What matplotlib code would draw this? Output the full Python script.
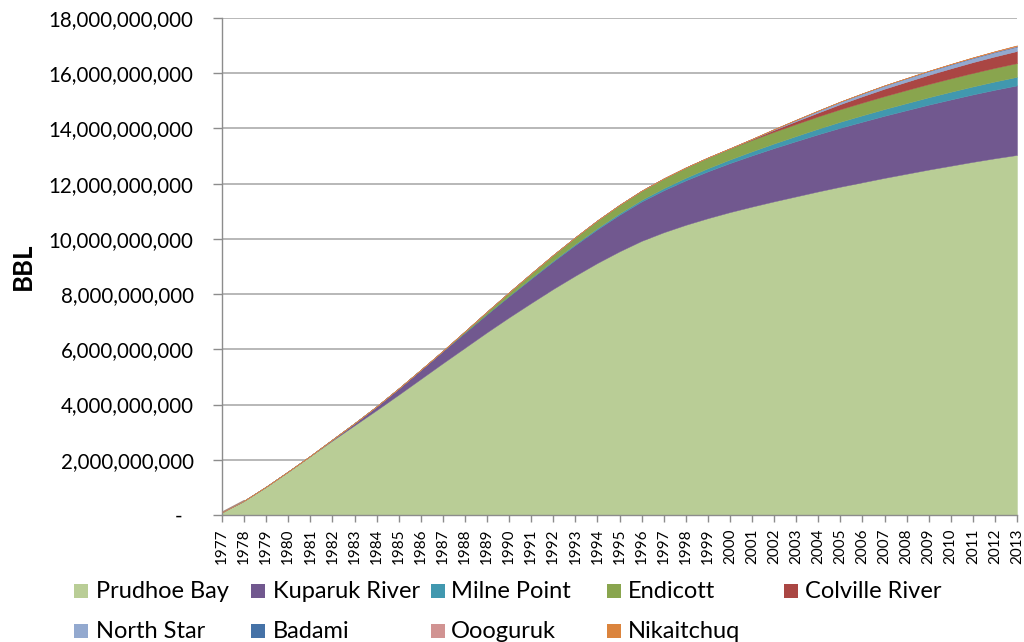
import matplotlib
matplotlib.use("Agg")
import matplotlib.pyplot as plt
from matplotlib.patches import Rectangle
from matplotlib.ticker import FuncFormatter
import numpy as np

# Cumulative oil production by North Slope field, billions of barrels
years = [1977, 1978, 1979, 1980, 1981, 1982, 1983, 1984, 1985, 1986,
         1987, 1988, 1989, 1990, 1991, 1992, 1993, 1994, 1995, 1996,
         1997, 1998, 1999, 2000, 2001, 2002, 2003, 2004, 2005, 2006,
         2007, 2008, 2009, 2010, 2011, 2012, 2013]

field_names = ["Prudhoe Bay", "Kuparuk River", "Milne Point", "Endicott",
               "Colville River", "North Star", "Badami", "Oooguruk",
               "Nikaitchuq"]

prudhoe_bay = [0.10, 0.52, 1.03, 1.58, 2.14, 2.70, 3.25, 3.80, 4.36, 4.93,
               5.50, 6.06, 6.62, 7.16, 7.68, 8.19, 8.67, 9.13, 9.55, 9.93,
               10.24, 10.51, 10.75, 10.97, 11.17, 11.36, 11.54, 11.72, 11.89, 12.05,
               12.21, 12.36, 12.51, 12.65, 12.79, 12.92, 13.04]

kuparuk_river = [0, 0, 0, 0, 0.004, 0.037, 0.077, 0.137, 0.227, 0.327,
                 0.437, 0.547, 0.657, 0.767, 0.882, 0.997, 1.112, 1.222, 1.327, 1.427,
                 1.522, 1.612, 1.697, 1.777, 1.855, 1.930, 2.002, 2.070, 2.135, 2.195,
                 2.250, 2.302, 2.352, 2.399, 2.442, 2.482, 2.520]

milne_point = [0, 0, 0, 0, 0, 0, 0, 0, 0.001, 0.004,
               0.006, 0.006, 0.008, 0.015, 0.022, 0.029, 0.036, 0.044, 0.052, 0.060,
               0.077, 0.095, 0.113, 0.130, 0.148, 0.167, 0.185, 0.203, 0.219, 0.232,
               0.244, 0.256, 0.268, 0.280, 0.290, 0.300, 0.310]

endicott = [0, 0, 0, 0, 0, 0, 0, 0, 0, 0,
            0.005, 0.042, 0.084, 0.126, 0.168, 0.208, 0.245, 0.277, 0.305, 0.330,
            0.351, 0.370, 0.386, 0.401, 0.414, 0.425, 0.436, 0.445, 0.454, 0.461,
            0.468, 0.474, 0.479, 0.484, 0.489, 0.493, 0.497]

colville_river = [0, 0, 0, 0, 0, 0, 0, 0, 0, 0,
                  0, 0, 0, 0, 0, 0, 0, 0, 0, 0,
                  0, 0, 0, 0.001, 0.031, 0.067, 0.103, 0.139, 0.184, 0.228,
                  0.268, 0.300, 0.332, 0.362, 0.390, 0.415, 0.438]

north_star = [0, 0, 0, 0, 0, 0, 0, 0, 0, 0,
              0, 0, 0, 0, 0, 0, 0, 0, 0, 0,
              0, 0, 0, 0, 0.001, 0.021, 0.045, 0.067, 0.085, 0.100,
              0.113, 0.124, 0.133, 0.141, 0.148, 0.154, 0.159]

badami = [0, 0, 0, 0, 0, 0, 0, 0, 0, 0,
          0, 0, 0, 0, 0, 0, 0, 0, 0, 0,
          0, 0.001, 0.003, 0.004, 0.005, 0.0055, 0.006, 0.0065, 0.007, 0.0075,
          0.008, 0.008, 0.008, 0.0085, 0.009, 0.0095, 0.010]

oooguruk = [0, 0, 0, 0, 0, 0, 0, 0, 0, 0,
            0, 0, 0, 0, 0, 0, 0, 0, 0, 0,
            0, 0, 0, 0, 0, 0, 0, 0, 0, 0,
            0, 0.002, 0.006, 0.011, 0.015, 0.020, 0.025]

nikaitchuq = [0, 0, 0, 0, 0, 0, 0, 0, 0, 0,
              0, 0, 0, 0, 0, 0, 0, 0, 0, 0,
              0, 0, 0, 0, 0, 0, 0, 0, 0, 0,
              0, 0, 0, 0, 0.002, 0.006, 0.012]

field_colors = ["#B9CD96", "#71588F", "#4198AF", "#89A54E", "#AA4643",
                "#93A9CF", "#4572A7", "#D19392", "#DB843D"]

y_ticks = [0, 2e9, 4e9, 6e9, 8e9, 10e9, 12e9, 14e9, 16e9, 18e9]

plt.rcParams["font.family"] = ["Lato", "DejaVu Sans"]

W, H = 1024, 642
fig = plt.figure(figsize=(W / 100, H / 100), dpi=100)
fig.patch.set_facecolor("white")


def fx(px):
    return px / W


def fy(py):
    return 1 - py / H


ax = fig.add_axes([fx(222), fy(515), fx(1017) - fx(222), fy(18) - fy(515)])

series = [prudhoe_bay, kuparuk_river, milne_point, endicott, colville_river,
          north_star, badami, oooguruk, nikaitchuq]
x = np.array(years, dtype=float)
base = np.zeros(len(years))
for values, color in zip(series, field_colors):
    top = base + np.array(values) * 1e9
    ax.fill_between(x, base, top, facecolor=color, edgecolor=color,
                    linewidth=0.3, zorder=2)
    base = top

# thin outline on the first year's segment of the stack top
ax.plot(x[:2], base[:2], color="#A88A80", linewidth=0.9, zorder=3)

ax.set_xlim(years[0], years[-1])
ax.set_ylim(0, 18e9)

grid_color = "#ABABAB"
ax.set_yticks(y_ticks)
ax.yaxis.grid(True, color=grid_color, linewidth=1.2, zorder=1)
ax.set_axisbelow(True)
ax.yaxis.set_major_formatter(
    FuncFormatter(lambda v, pos: "-  " if v == 0 else f"{v:,.0f}"))
ax.tick_params(axis="y", length=6.5, width=1, color="#8C8C8C", pad=14,
               labelsize=14.8, labelcolor="black")

ax.set_xticks(years)
ax.set_xticklabels([str(y) for y in years], rotation=90)
ax.tick_params(axis="x", length=5, width=1, color="#8C8C8C", pad=4.5,
               labelsize=11, labelcolor="black")

for side in ("top", "right"):
    ax.spines[side].set_visible(False)
for side in ("left", "bottom"):
    ax.spines[side].set_color("#8C8C8C")
    ax.spines[side].set_linewidth(1.0)

fig.text(fx(23), fy(266), "BBL", rotation=90, fontsize=18.5,
         fontweight="bold", ha="center", va="center")

# legend laid out in two rows beneath the axis
marker_x = [74, 251, 431, 607, 784]
text_x = [96, 273, 451, 628, 805]
row_y = [591, 631]
sq = 14
for i, (name, color) in enumerate(zip(field_names, field_colors)):
    row, col = divmod(i, 5)
    cy = row_y[row]
    fig.patches.append(Rectangle((fx(marker_x[col]), fy(cy + sq / 2)),
                                 sq / W, sq / H, transform=fig.transFigure,
                                 facecolor=color, edgecolor="none"))
    fig.text(fx(text_x[col]), fy(cy), name, fontsize=17, ha="left",
             va="center", color="black")

fig.savefig("out.png", dpi=100, facecolor="white")
